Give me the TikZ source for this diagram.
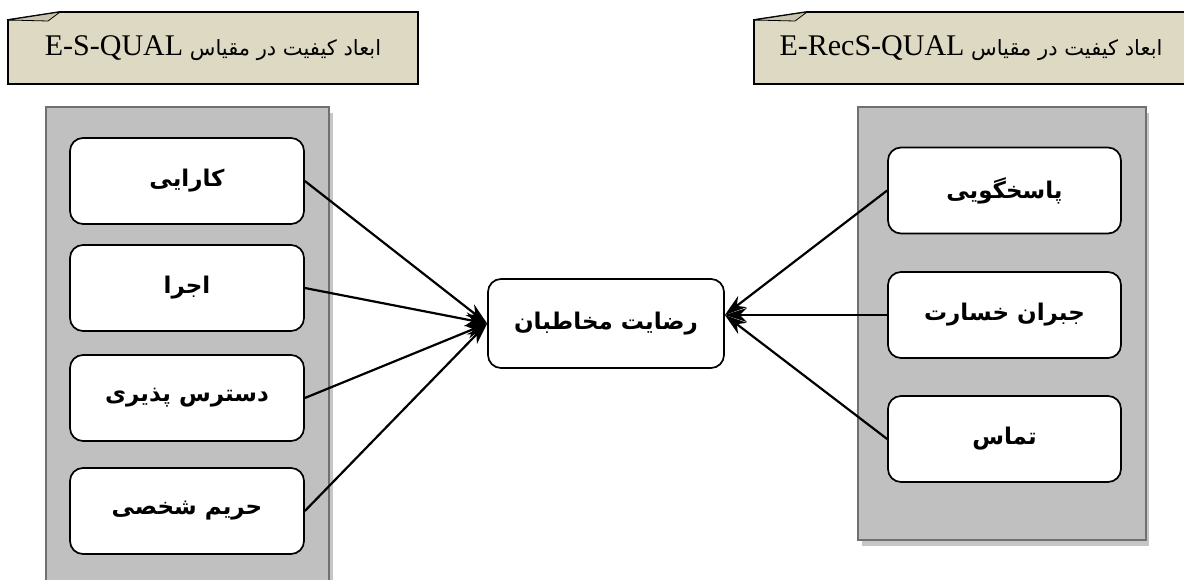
\documentclass[tikz,border=0pt]{standalone}
\usepackage{fontspec}
\setmainfont{Liberation Serif}
\newfontfamily\fa[Script=Arabic]{DejaVu Sans}
\TeXXeTstate=1
\usetikzlibrary{arrows.meta}
\definecolor{calloutfill}{HTML}{DDD9C3}
\definecolor{foldfill}{HTML}{C9C5AE}
\definecolor{panelfill}{HTML}{C0C0C0}
\definecolor{panelborder}{HTML}{707070}
\definecolor{panelshadow}{HTML}{C6C6C6}
\newcommand\rtltext[1]{\beginR #1\endR}
\tikzset{
  callout/.style={fill=calloutfill, draw=black, line width=1.8pt, line join=miter},
  fold/.style={fill=foldfill, draw=black, line width=0.8pt},
  calltext/.style={inner sep=0pt, font=\fa\fontsize{21}{25}\selectfont},
  panel/.style={fill=panelfill, draw=panelborder, line width=2.5pt},
  panelshade/.style={fill=panelshadow, draw=none},
  item/.style={draw=black, fill=white, rounded corners=13pt, line width=1.7pt,
    minimum width=234pt, minimum height=86pt, inner sep=0pt,
    font=\fa\bfseries\fontsize{23}{27}\selectfont},
  conn/.style={line width=2.2pt, -{Stealth[length=22pt,width=14pt,inset=7pt]}}
}
\begin{document}
\begin{tikzpicture}[x=1pt,y=-1pt]
\useasboundingbox (0,0) rectangle (1184,579);
\clip (0,0) rectangle (1184,579);
\fill[white] (0,0) rectangle (1184,579);
% callouts
\draw[callout] (8,20) -- (60,12) -- (418,12) -- (418,84) -- (8,84) -- cycle;
\draw[fold] (8,20) -- (60,12) -- (48,21) -- cycle;
\draw[callout] (754,20) -- (807,12) -- (1200,12) -- (1200,84) -- (754,84) -- cycle;
\draw[fold] (754,20) -- (807,12) -- (795,21) -- cycle;
\node[calltext] (tl) at (213,48) {\rtltext{ابعاد کیفیت در مقیاس \beginL{\rmfamily\fontsize{30}{34}\selectfont E-S-QUAL}\endL}};
\node[calltext] (tr) at (971,48) {\rtltext{ابعاد کیفیت در مقیاس \beginL{\rmfamily\fontsize{30}{34}\selectfont E-RecS-QUAL}\endL}};
% panels
\fill[panelshade] (50,113) rectangle (333,600);
\draw[panel] (46,107) rectangle (329,600);
\fill[panelshade] (862,113) rectangle (1149,546);
\draw[panel] (858,107) rectangle (1146,540);
% left items
\node[item] (l1) at (187,181) {\rtltext{کارایی}};
\node[item] (l2) at (187,288) {\rtltext{اجرا}};
\node[item] (l3) at (187,398) {\rtltext{دسترس پذیری}};
\node[item] (l4) at (187,511) {\rtltext{حریم شخصی}};
% right items
\node[item, minimum width=233pt] (r1) at (1004.5,190.5) {\rtltext{پاسخگویی}};
\node[item, minimum width=233pt] (r2) at (1004.5,315) {\rtltext{جبران خسارت}};
\node[item, minimum width=233pt] (r3) at (1004.5,439) {\rtltext{تماس}};
% center
\node[item, minimum width=236pt, minimum height=89pt] (c) at (606,323.5) {\rtltext{رضایت مخاطبان}};
% connectors
\foreach \n in {l1,l2,l3,l4} \draw[conn] (\n.east) -- (c.west);
\foreach \n in {r1,r2,r3} \draw[conn] (\n.west) -- (c.east |- r2.west);
\end{tikzpicture}
\end{document}
